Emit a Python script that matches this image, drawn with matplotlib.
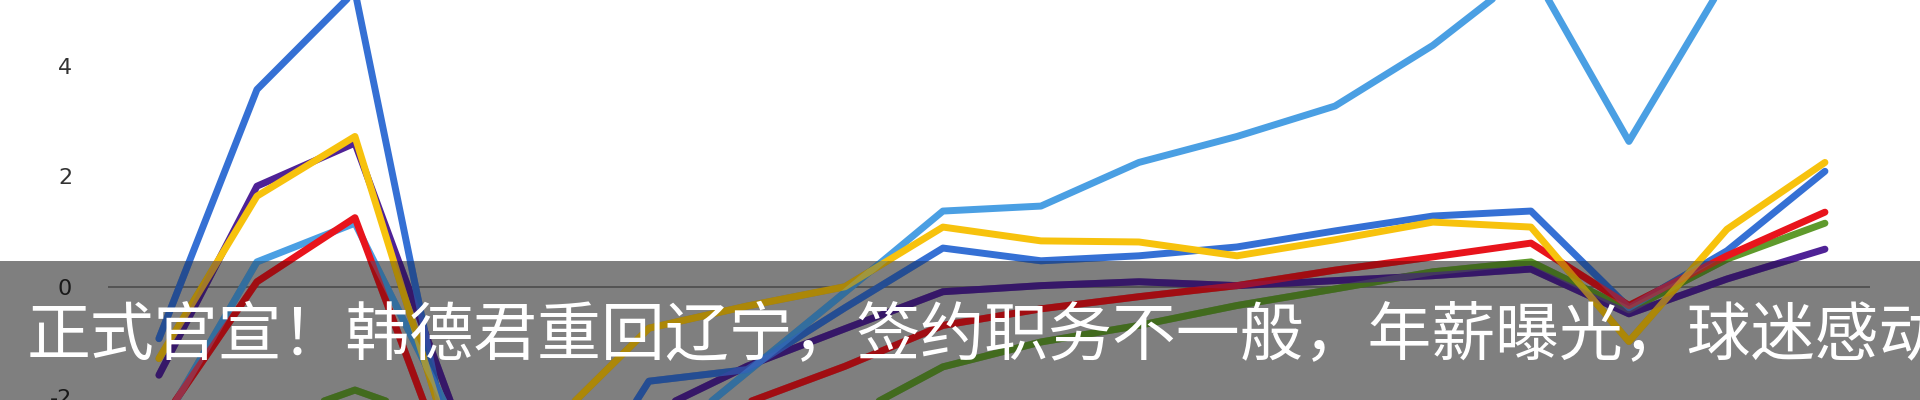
import matplotlib
matplotlib.use("Agg")
import matplotlib.pyplot as plt
from matplotlib.patches import Rectangle

# 18 periods along x
periods = list(range(18))

dark_blue  = [-0.94, 3.57, 5.35, -3.3, -4.5, -1.71, -1.5, -0.38, 0.70, 0.47, 0.56, 0.72, 1.01, 1.28, 1.37, -0.38, 0.65, 2.09]
light_blue = [-2.6, 0.45, 1.15, -2.4, -3.2, -3.0, -1.55, -0.10, 1.37, 1.46, 2.25, 2.72, 3.27, 4.37, 5.75, 2.63, 5.6, 5.9]
yellow     = [-1.30, 1.64, 2.72, -3.0, -2.5, -0.75, -0.35, 0.0, 1.08, 0.83, 0.81, 0.56, 0.85, 1.17, 1.08, -0.99, 1.04, 2.25]
purple     = [-1.60, 1.82, 2.60, -2.2, -3.0, -2.3, -1.44, -0.76, -0.09, 0.02, 0.09, 0.02, 0.11, 0.20, 0.32, -0.49, 0.14, 0.68]
red        = [-2.5, 0.09, 1.25, -3.5, -3.2, -2.6, -2.1, -1.44, -0.70, -0.40, -0.18, 0.02, 0.30, 0.54, 0.79, -0.34, 0.56, 1.35]
green      = [-3.2, -2.5, -1.87, -2.5, -3.2, -3.0, -2.8, -2.4, -1.45, -1.0, -0.70, -0.34, -0.04, 0.27, 0.45, -0.42, 0.50, 1.15]

y_ticks = [-2, 0, 2, 4]
caption = "正式官宣！韩德君重回辽宁，签约职务不一般，年薪曝光，球迷感动"

# bottom to top
series = [
    (green, "#5f9a2c"),
    (purple, "#4f2296"),
    (light_blue, "#4a9fe3"),
    (dark_blue, "#3570d4"),
    (red, "#e8141c"),
    (yellow, "#f7c20d"),
]

banner_h = 0.3475  # fraction of the height covered by the caption bar

fig = plt.figure(figsize=(19.2, 4), dpi=100)
ax = fig.add_axes([0, 0, 1, 1])

# zero line
ax.hlines(0, -0.52, 17.46, color="#9a9a9a", lw=1.2, zorder=1)

for i, (vals, col) in enumerate(series):
    ax.plot(periods, vals, color=col, lw=5, solid_capstyle="round", zorder=2 + i)

# dark caption bar
ax.add_patch(Rectangle((0, 0), 1, banner_h, transform=ax.transAxes,
                       facecolor="black", alpha=0.5, lw=0, zorder=10))

# lines show through the bar a bit more than plain alpha would give
clip = Rectangle((0, 0), 1, banner_h, transform=ax.transAxes)
for i, (vals, col) in enumerate(series):
    ln, = ax.plot(periods, vals, color=col, lw=5, alpha=0.4,
                  solid_capstyle="round", zorder=11 + i)
    ln.set_clip_path(clip)

ax.set_xlim(-1.622, 17.97)
ax.set_ylim(-2.05, 5.19)
ax.set_xticks([])
ax.set_yticks(y_ticks)
ax.set_yticklabels([str(t) for t in y_ticks], fontsize=16, color="#333333")
ax.tick_params(axis="y", length=0, pad=-52)
for s in ax.spines.values():
    s.set_visible(False)

fig.text(0.014, 0.112, caption, color="white", fontsize=46, va="baseline",
         ha="left", family=["Noto Sans CJK SC", "DejaVu Sans"], zorder=30)

fig.savefig("out.png", dpi=100)
